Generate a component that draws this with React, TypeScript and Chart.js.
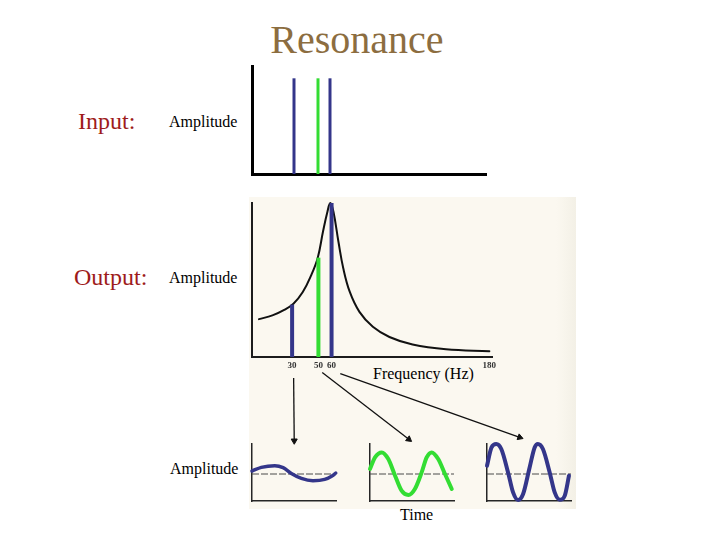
import React, { useEffect, useRef } from "react";
import { Chart, registerables } from "chart.js";

Chart.register(...registerables);

const FONT = "'Liberation Serif', 'Times New Roman', serif";

// ---------- Data ----------
// Input spectrum (three pure tones)
const INPUT_FREQS = [30, 50, 60];
const INPUT_AMPS = [88.6, 88.6, 88.6];

// Output: resonance response curve
const CURVE_FREQ = [4.8, 15, 24, 31, 38, 44.2, 49.5, 53.5, 56.9, 59, 61.4, 65.2, 68.9, 73.8, 81.2, 91.4, 104, 121.6, 147, 180];
const CURVE_AMP = [24.6, 27, 30.6, 34.6, 42, 52.5, 64.5, 81.5, 94.5, 100, 94.5, 75, 57.6, 42.4, 29.3, 19.6, 13, 8.1, 5, 3.7];

// Output spectrum bars
const OUTPUT_FREQS = [30, 50, 60];
const OUTPUT_AMPS = [34, 64.5, 100];
const FREQ_TICKS = [30, 50, 60, 180];

// Time responses (ms, amplitude)
const T30 = [0, 3.7, 9.1, 12.4, 15.7, 19.7, 24.3, 29, 31.9, 33.4];
const A30 = [3, 6.6, 8.3, 6.3, 0.6, -4.4, -6.7, -5.4, -2, 1.0];
const T50 = [0, 2, 4.7, 7.3, 10, 12.6, 15.3, 17.9, 20.6, 22.6, 24.6, 27.2, 29.9, 32.6];
const A50 = [5, 16.6, 21.6, 15, -1.7, -16.7, -21, -15, 1.6, 16.6, 21.6, 15, 0, -15];
const T60 = [0, 1.8, 3.7, 5.7, 8.4, 10.4, 12.4, 14.4, 17, 19, 20.3, 22.3, 25, 27, 29, 31, 32.7];
const A60 = [8.3, 26.6, 30, 25, 1.6, -18.4, -26, -20, 6.6, 26.6, 30, 25, 1.6, -18.4, -25.7, -21.7, -1.7];
const TIME_MAX = 33.5;

// ---------- Styles ----------
const BLUE = "#34368a";
const GREEN = "#33dd33";
const BLACK = "#111111";

// arrows (page coordinates, annotation)
const ARROW_START = [[292.7, 380], [321.7, 374.5], [340, 375.5]];
const ARROW_END = [[293.3, 444], [409.5, 442.5], [522, 440.5]];

type Rect = { l: number; t: number; w: number; h: number };
const PAD = 14;

function ChartBox({ rect, extraBottom = 0, makeConfig }: { rect: Rect; extraBottom?: number; makeConfig: () => any }) {
  const ref = useRef<HTMLCanvasElement>(null);
  const width = rect.w + 2 * PAD;
  const height = rect.h + 2 * PAD + extraBottom;
  useEffect(() => {
    const chart = new Chart(ref.current as HTMLCanvasElement, makeConfig());
    return () => chart.destroy();
  }, []);
  return (
    <canvas
      ref={ref}
      width={width}
      height={height}
      style={{ position: "absolute", left: rect.l - PAD, top: rect.t - PAD, width, height }}
    />
  );
}

function baseOptions(
  xmin: number, xmax: number, ymin: number, ymax: number,
  axisColor: string, axisWidth: number, xTicks: any = null, xHeight = 0
) {
  return {
    responsive: false,
    maintainAspectRatio: false,
    animation: false,
    events: [],
    layout: { padding: PAD },
    plugins: { legend: { display: false }, tooltip: { enabled: false }, title: { display: false } },
    elements: { point: { radius: 0 } },
    scales: {
      x: {
        type: "linear",
        min: xmin,
        max: xmax,
        grid: { display: false, drawTicks: false },
        border: { display: true, color: axisColor, width: axisWidth },
        ticks: xTicks || { display: false },
        afterBuildTicks: xTicks ? (axis: any) => { axis.ticks = FREQ_TICKS.map((v) => ({ value: v })); } : undefined,
        afterFit: (s: any) => { s.height = xHeight; },
      },
      y: {
        type: "linear",
        min: ymin,
        max: ymax,
        grid: { display: false, drawTicks: false },
        border: { display: true, color: axisColor, width: axisWidth },
        ticks: { display: false },
        afterFit: (s: any) => { s.width = 0; },
      },
    },
  };
}

function stick(x: number, y: number, color: string, width: number) {
  return {
    data: [{ x, y: 0 }, { x, y }],
    showLine: true,
    borderColor: color,
    borderWidth: width,
    borderCapStyle: "butt",
    pointRadius: 0,
    clip: false,
  };
}

function curve(xs: number[], ys: number[], color: string, width: number, mode = "monotone") {
  return {
    data: xs.map((x, i) => ({ x, y: ys[i] })),
    showLine: true,
    borderColor: color,
    borderWidth: width,
    cubicInterpolationMode: mode,
    tension: 0.4,
    pointRadius: 0,
    clip: false,
    borderCapStyle: "round",
  };
}

const INPUT_COLORS = [BLUE, GREEN, BLUE];

const inputConfig = () => ({
  type: "scatter",
  data: { datasets: INPUT_FREQS.map((f, i) => stick(f, INPUT_AMPS[i], INPUT_COLORS[i], 3)) },
  options: baseOptions(-5, 190, 0, 100, "#000000", 3),
});

const outputConfig = () => ({
  type: "scatter",
  data: {
    datasets: [
      ...OUTPUT_FREQS.map((f, i) => stick(f, OUTPUT_AMPS[i], INPUT_COLORS[i], 4)),
      curve(CURVE_FREQ, CURVE_AMP, BLACK, 2, "default"),
    ],
  },
  options: baseOptions(-0.5, 182, 0, 100, "#1c1c1c", 2, {
    display: true,
    autoSkip: false,
    maxRotation: 0,
    minRotation: 0,
    padding: 3,
    color: "#333333",
    font: { family: FONT, size: 9, weight: "bold" },
    callback: (v: any) => String(v),
  }, 14),
});

const panelConfig = (ts: number[], as: number[], color: string, width: number) => () => ({
  type: "scatter",
  data: {
    datasets: [
      curve(ts, as, color, width),
      {
        data: [{ x: 0, y: 0 }, { x: TIME_MAX, y: 0 }],
        showLine: true,
        borderColor: "#4a4a4a",
        borderWidth: 1,
        borderDash: [7, 2],
        pointRadius: 0,
      },
    ],
  },
  options: baseOptions(0, TIME_MAX, -27, 30, "#262626", 1.5),
});

const arrowConfig = () => ({
  type: "scatter",
  data: {
    datasets: ARROW_START.map((s, i) => {
      const e = ARROW_END[i];
      const rot = (Math.atan2(e[0] - s[0], -(e[1] - s[1])) * 180) / Math.PI;
      return {
        data: [{ x: s[0], y: s[1] }, { x: e[0], y: e[1] }],
        showLine: true,
        borderColor: BLACK,
        borderWidth: 1.3,
        pointRadius: [0, 3.5],
        pointStyle: "triangle",
        rotation: [0, rot],
        pointBackgroundColor: BLACK,
        pointBorderColor: BLACK,
        pointBorderWidth: 1,
        clip: false,
      };
    }),
  },
  options: {
    responsive: false,
    maintainAspectRatio: false,
    animation: false,
    events: [],
    layout: { padding: 0 },
    plugins: { legend: { display: false }, tooltip: { enabled: false } },
    scales: {
      x: { type: "linear", min: 0, max: 720, display: false },
      y: { type: "linear", min: 0, max: 540, reverse: true, display: false },
    },
  },
});

function Overlay() {
  const ref = useRef<HTMLCanvasElement>(null);
  useEffect(() => {
    const chart = new Chart(ref.current as HTMLCanvasElement, arrowConfig() as any);
    return () => chart.destroy();
  }, []);
  return (
    <canvas
      ref={ref}
      width={720}
      height={540}
      style={{ position: "absolute", left: 0, top: 0, width: 720, height: 540, pointerEvents: "none" }}
    />
  );
}

function Label({ text, left, top, size, color = "#000", width, align }: any) {
  return (
    <div
      style={{
        position: "absolute",
        left,
        top,
        width,
        textAlign: align,
        fontFamily: FONT,
        fontSize: size,
        lineHeight: `${size}px`,
        color,
        whiteSpace: "nowrap",
      }}
    >
      {text}
    </div>
  );
}

export default function App() {
  return (
    <div style={{ position: "absolute", left: 0, top: 0, width: 720, height: 540, background: "#ffffff", overflow: "hidden" }}>
      <div style={{ position: "absolute", left: 249, top: 197, width: 327, height: 312, background: "linear-gradient(to right, #fbf8f0 94%, #f3f0e6)" }} />
      <Label text="Resonance" left={0} top={19.5} size={40} color="#8c6d40" width={714} align="center" />
      <Label text="Input:" left={78} top={109} size={24} color="#9e1b1b" />
      <Label text="Output:" left={74} top={264.5} size={24} color="#9e1b1b" />
      <Label text="Amplitude" left={169} top={114} size={16} />
      <Label text="Amplitude" left={169} top={269.5} size={16} />
      <Label text="Amplitude" left={170} top={461} size={16} />
      <Label text="Frequency (Hz)" left={373} top={365.6} size={16} />
      <Label text="Time" left={400} top={506.6} size={16} />

      <ChartBox rect={{ l: 252, t: 66, w: 234, h: 108 }} makeConfig={inputConfig} />
      <ChartBox rect={{ l: 252, t: 203, w: 240, h: 154 }} extraBottom={14} makeConfig={outputConfig} />
      <ChartBox rect={{ l: 252, t: 444, w: 84, h: 57 }} makeConfig={panelConfig(T30, A30, BLUE, 3.5)} />
      <ChartBox rect={{ l: 370, t: 444, w: 84, h: 57 }} makeConfig={panelConfig(T50, A50, GREEN, 4)} />
      <ChartBox rect={{ l: 487, t: 444, w: 84, h: 57 }} makeConfig={panelConfig(T60, A60, BLUE, 4)} />
      <Overlay />
    </div>
  );
}
